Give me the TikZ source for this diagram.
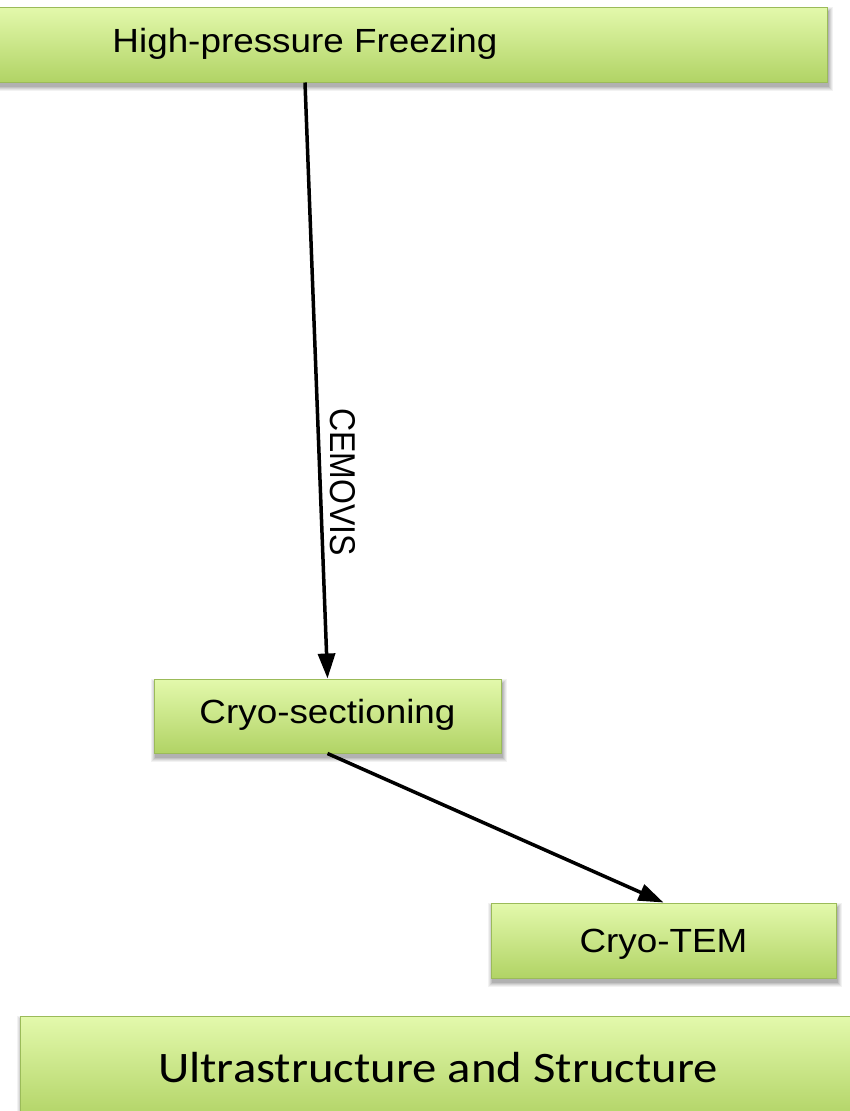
\documentclass[tikz,border=0pt]{standalone}
\usepackage{fontspec}
\setmainfont{Liberation Sans}
\newfontfamily\carlito{Carlito}
\usetikzlibrary{arrows.meta,backgrounds}
\definecolor{gtop}{RGB}{227,249,172}
\definecolor{gbot}{RGB}{177,211,101}
\definecolor{gbord}{RGB}{155,187,89}
\begin{document}
\begin{tikzpicture}[x=1pt,y=1pt,
  box/.style={draw=gbord, line width=1pt, top color=gtop, bottom color=gbot,
    rectangle, inner sep=0pt, text height=23.6pt, text depth=0pt,
    font=\fontsize{33.5}{33.5}\selectfont},
  conn/.style={line width=3.5pt, -{Triangle[length=25pt,width=17pt]}},
  lbl/.style={font=\fontsize{32}{32}\selectfont, inner sep=0pt}
]
\useasboundingbox (0,0) rectangle (850,-1111);
\clip (0,0) rectangle (850,-1111);

\node[box, minimum width=1044pt, minimum height=75pt, text depth=7pt] (hpf) at (305,-44.5) {\scalebox{1.1}[1]{High-pressure Freezing}};
\node[box, minimum width=347pt, minimum height=74pt, text depth=8pt] (sec) at (327.5,-716) {\scalebox{1.1}[1]{Cryo-sectioning}};
\node[box, minimum width=345pt, minimum height=75pt] (tem) at (663.5,-940.5) {\scalebox{1.1}[1]{Cryo-TEM}};
\node[box, minimum width=836pt, minimum height=104pt, text height=28pt, font=\carlito\fontsize{43.5}{43.5}\selectfont] (ult) at (438,-1068) {\scalebox{1.12}[1]{Ultrastructure and Structure}};

\begin{pgfonlayer}{background}
\foreach \n in {hpf,sec,tem,ult}{
  \foreach \e/\o in {4/0.05,3/0.06,2/0.07,1/0.08,0/0.09}{
    \fill[black,opacity=\o] ([xshift={1pt-\e*1pt},yshift={-4pt-\e*1pt}]\n.south west) rectangle ([xshift={1pt+\e*1pt},yshift={-4pt+\e*1pt}]\n.north east);
  }
}
\end{pgfonlayer}

\draw[conn] (hpf.south) -- (sec.north) node[lbl, pos=0.67, xshift=23pt] {\scalebox{1.12}[1]{\rotatebox{-90}{CEMOVIS}}};
\draw[conn] (sec.south) -- (tem.north);
\end{tikzpicture}
\end{document}
